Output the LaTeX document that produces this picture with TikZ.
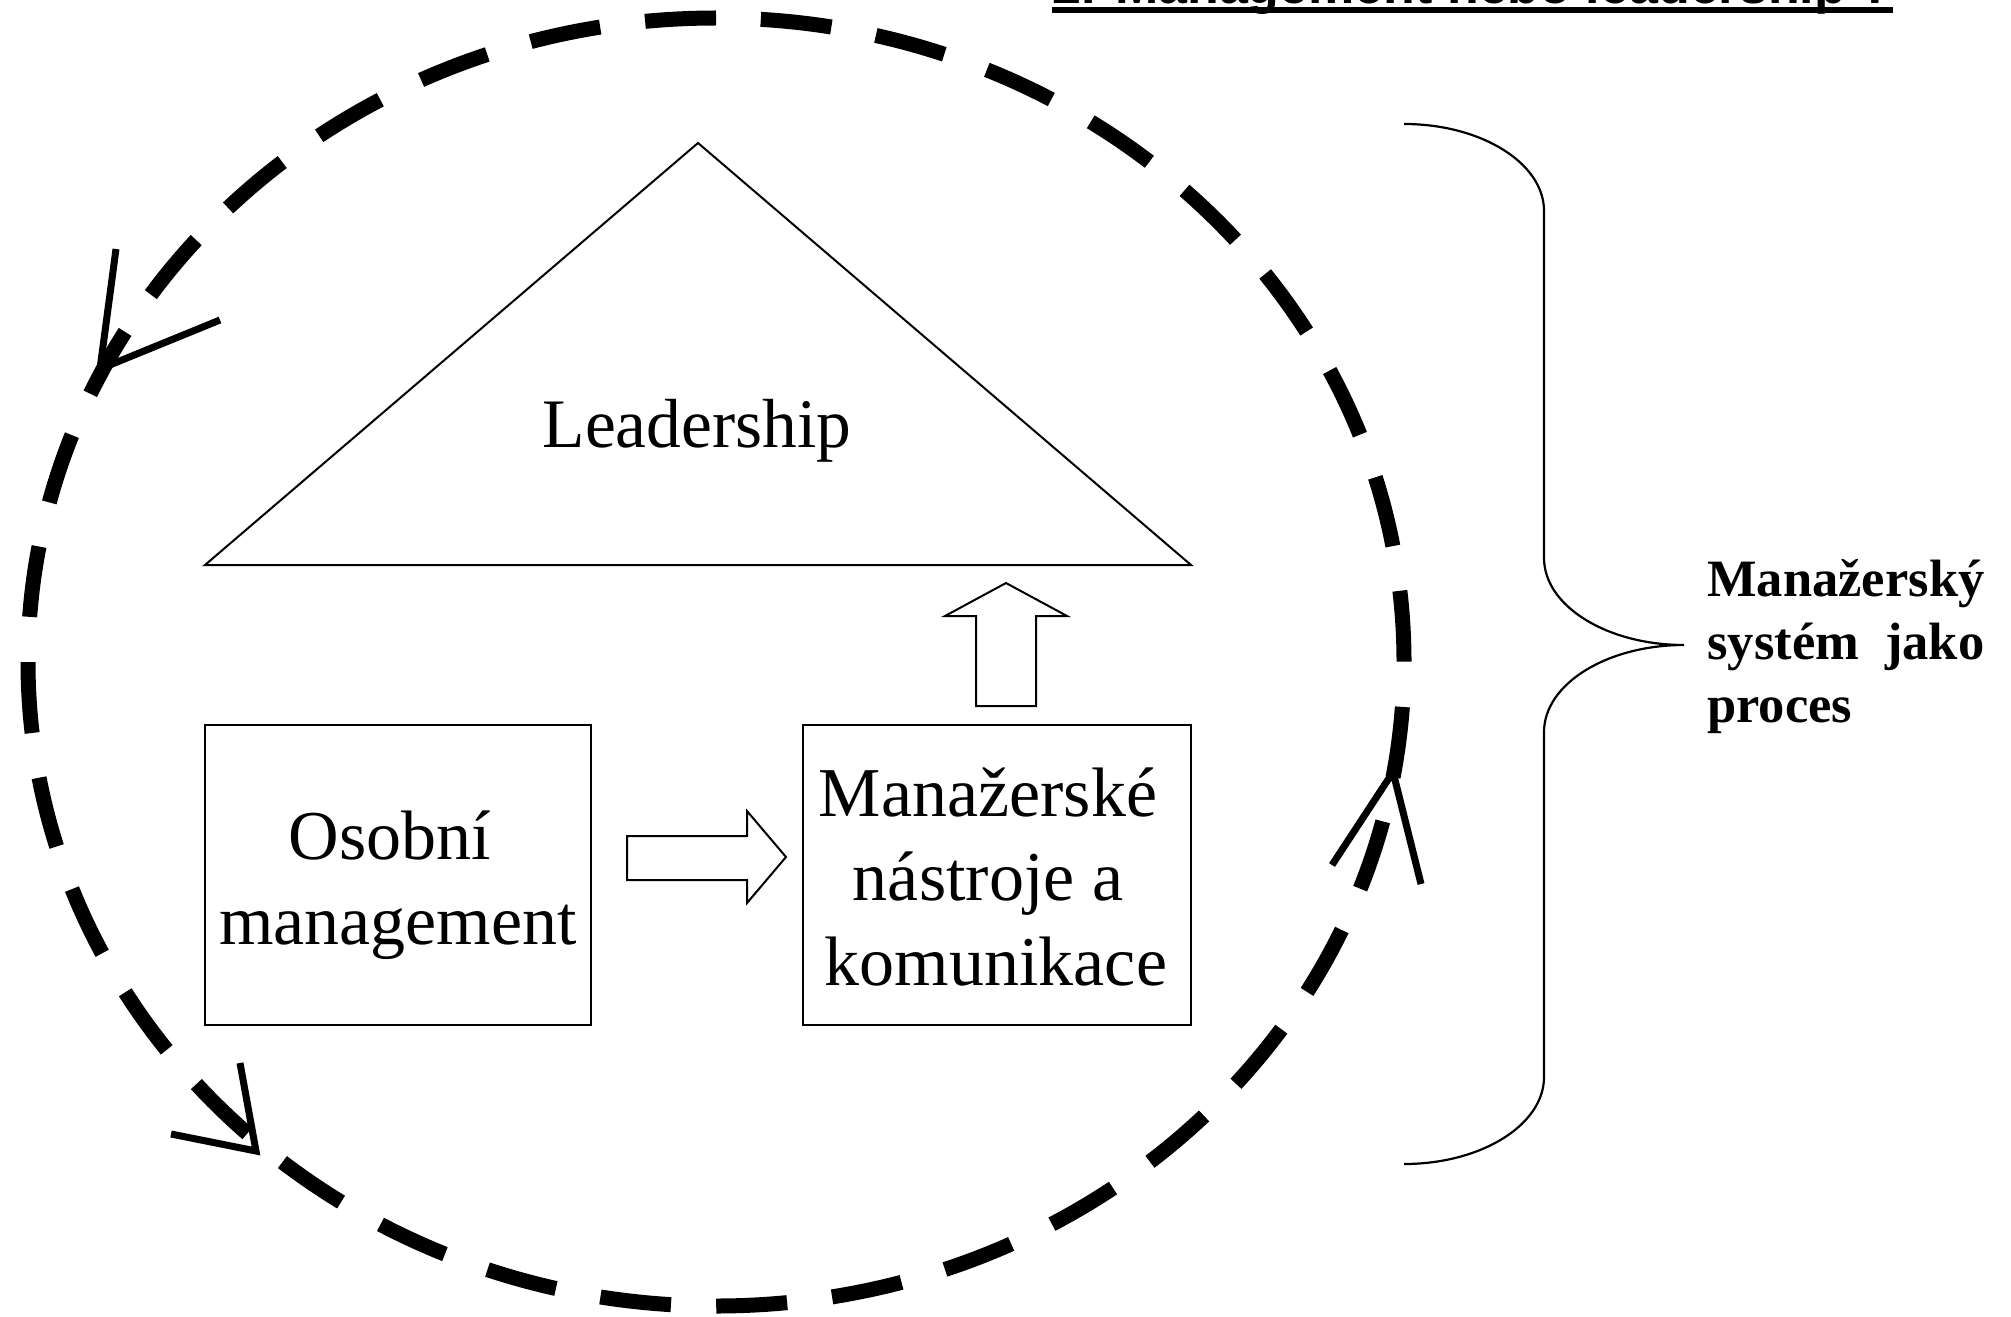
\documentclass[tikz,border=0pt]{standalone}
\usepackage{fontspec}
\setmainfont{Liberation Serif}
\newfontfamily\titlefont{Liberation Sans}
\begin{document}
\begin{tikzpicture}[x=0.5pt,y=0.5pt,
  thinline/.style={line width=1pt},
  loopline/.style={line width=7.5pt, dash pattern=on 35.5pt off 22.65pt},
  vhead/.style={line width=3.5pt, miter limit=10},
  boxnode/.style={draw, line width=1pt, inner sep=0pt, minimum height=150pt},
  boxtext/.style={font=\fontsize{35}{42.5}\selectfont, inner sep=0pt, anchor=base},
  sidetext/.style={font=\fontsize{26.25}{31.5}\selectfont\bfseries, inner sep=0pt, anchor=base west},
  blockarrow/.style={draw, line width=1pt, fill=white, line join=miter}]
\useasboundingbox (0,0) rectangle (2011,-1316);
\clip (0,0) rectangle (2011,-1316);

% title (cut by the top edge)
\node[font=\titlefont\bfseries\fontsize{26}{30}\selectfont, inner sep=0pt, anchor=base west]
  (title) at (1052,-3.5) {2. Management nebo leadership ?};
\fill ([yshift=-1.75pt]title.base west) rectangle ([yshift=-4.75pt]title.base east);

% dashed loop
\draw[loopline] (716,-18) arc[start angle=90, end angle=450, x radius=344pt, y radius=322pt];

% arrowheads on the loop
\coordinate (a1l) at (116,-249); \coordinate (a1t) at (100,-369); \coordinate (a1r) at (220,-320);
\coordinate (a2l) at (240,-1063); \coordinate (a2t) at (256,-1151); \coordinate (a2r) at (171,-1134);
\coordinate (a3l) at (1332,-865); \coordinate (a3t) at (1393,-772); \coordinate (a3r) at (1421,-884);
\draw[vhead] (a1l) -- (a1t) -- (a1r);
\draw[vhead] (a2l) -- (a2t) -- (a2r);
\draw[vhead] (a3l) -- (a3t) -- (a3r);

% triangle
\coordinate (apex) at (698,-143);
\coordinate (bl) at (205,-565);
\coordinate (br) at (1191,-565);
\draw[thinline, line join=miter] (apex) -- (br) -- (bl) -- cycle;
\node[font=\fontsize{34.75}{40}\selectfont, inner sep=0pt, anchor=base] (lead) at (697,-447) {Leadership};

% boxes
\node[boxnode, minimum width=193pt] (b1) at (398,-875) {};
\node[boxnode, minimum width=194pt] (b2) at (997,-875) {};
\node[boxtext] (t1a) at (390,-859) {Osobní};
\node[boxtext] (t1b) at (398,-944) {management};
\node[boxtext] (t2a) at (988,-816) {Manažerské};
\node[boxtext] (t2b) at (988,-900) {nástroje a};
\node[boxtext] (t2c) at (996,-985) {komunikace};

% block arrows
\draw[blockarrow] (627,-836) -- (747,-836) -- (747,-811) -- (786,-857) -- (747,-903) -- (747,-880) -- (627,-880) -- cycle;
\draw[blockarrow] (976,-706) -- (976,-616) -- (945,-616) -- (1006,-583) -- (1067,-616) -- (1036,-616) -- (1036,-706) -- cycle;

% brace
\draw[line width=1.1pt] (1404,-124) .. controls (1481,-124) and (1544,-163) .. (1544,-211)
  -- (1544,-558) .. controls (1544,-606) and (1607,-645) .. (1684,-645)
  .. controls (1607,-645) and (1544,-684) .. (1544,-732)
  -- (1544,-1077) .. controls (1544,-1125) and (1481,-1164) .. (1404,-1164);

% side text
\node[sidetext] (s1) at (1707,-596) {Manažerský};
\node[sidetext] (s2) at (1707,-659) {\setbox0\hbox{Manažerský}\hbox to \wd0{systém\hfill jako}};
\node[sidetext] (s3) at (1707,-722) {proces};
\end{tikzpicture}
\end{document}
